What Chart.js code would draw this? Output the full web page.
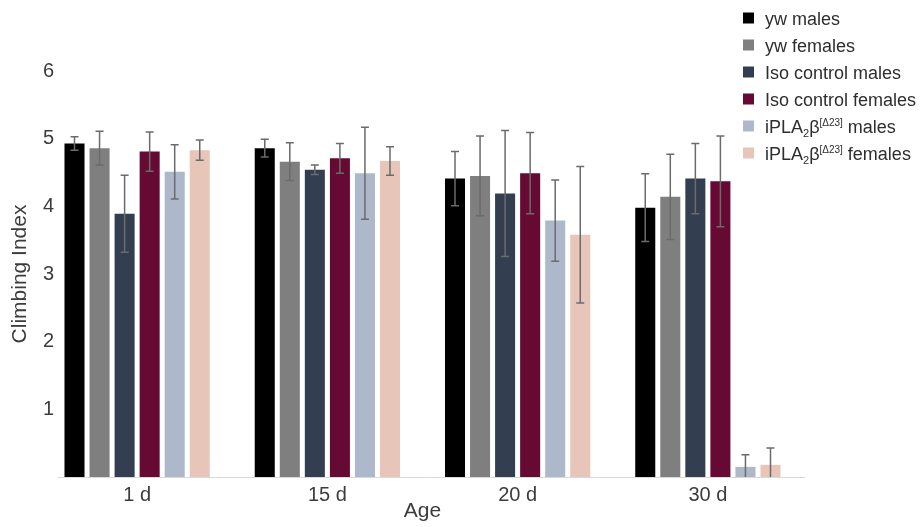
<!DOCTYPE html>
<html><head><meta charset="utf-8">
<script src="https://cdn.jsdelivr.net/npm/chart.js@4.4.1/dist/chart.umd.min.js"></script>
<style>html,body{margin:0;padding:0;background:#fff;}#wrap{width:923px;height:527px;position:relative;}</style>
</head><body><div id="wrap"><canvas id="c" width="923" height="527"></canvas></div>
<script>
const categories = ['1 d', '15 d', '20 d', '30 d'];
const seriesNames = ['yw males', 'yw females', 'Iso control males', 'Iso control females', 'iPLA_{2}β^{[Δ23]} males', 'iPLA_{2}β^{[Δ23]} females'];
const ywMales = [4.93, 4.86, 4.41, 3.98];
const ywMalesErr = [0.10, 0.13, 0.40, 0.50];
const ywFemales = [4.86, 4.66, 4.45, 4.14];
const ywFemalesErr = [0.25, 0.28, 0.59, 0.63];
const isoMales = [3.89, 4.54, 4.19, 4.41];
const isoMalesErr = [0.57, 0.07, 0.93, 0.52];
const isoFemales = [4.81, 4.71, 4.49, 4.37];
const isoFemalesErr = [0.29, 0.22, 0.60, 0.67];
const iplaMales = [4.51, 4.49, 3.79, 0.15];
const iplaMalesErr = [0.40, 0.68, 0.60, 0.18];
const iplaFemales = [4.83, 4.67, 3.58, 0.18];
const iplaFemalesErr = [0.15, 0.21, 1.01, 0.25];
const yTicks = [1, 2, 3, 4, 5, 6];

const seriesValues = [ywMales, ywFemales, isoMales, isoFemales, iplaMales, iplaFemales];
const seriesErrors = [ywMalesErr, ywFemalesErr, isoMalesErr, isoFemalesErr, iplaMalesErr, iplaFemalesErr];
const seriesColors = ['#000000', '#7f7f7f', '#333f50', '#660a33', '#adb9ca', '#e7c6b9'];
const FONT = '"Liberation Sans", Arial, sans-serif';
const TEXT = '#3c3c3c';

function plainLabel(s) { return s.replace(/_\{([^}]*)\}/g, '$1').replace(/\^\{([^}]*)\}/g, '$1'); }

const baseline = {
  id: 'baseline',
  beforeDatasetsDraw(chart) {
    const ctx = chart.ctx, a = chart.chartArea;
    ctx.save();
    ctx.strokeStyle = '#d9d9d9';
    ctx.lineWidth = 1;
    ctx.beginPath();
    ctx.moveTo(a.left + 16, a.bottom + 0.5);
    ctx.lineTo(a.right + 2, a.bottom + 0.5);
    ctx.stroke();
    ctx.restore();
  }
};

const errorBars = {
  id: 'errorBars',
  afterDatasetsDraw(chart) {
    const ctx = chart.ctx, ys = chart.scales.y;
    ctx.save();
    ctx.strokeStyle = '#6b6b6b';
    ctx.lineWidth = 1.5;
    chart.data.datasets.forEach((ds, i) => {
      const meta = chart.getDatasetMeta(i);
      meta.data.forEach((bar, j) => {
        const v = ds.data[j], e = seriesErrors[i][j];
        const yt = ys.getPixelForValue(v + e);
        const lo = v - e;
        const yb = ys.getPixelForValue(Math.max(0, lo));
        const x = bar.x, cw = 4;
        ctx.beginPath();
        ctx.moveTo(x, yt); ctx.lineTo(x, yb);
        ctx.moveTo(x - cw, yt); ctx.lineTo(x + cw, yt);
        if (lo > 0) { ctx.moveTo(x - cw, yb); ctx.lineTo(x + cw, yb); }
        ctx.stroke();
      });
    });
    ctx.restore();
  }
};

function drawRich(ctx, str, x, base) {
  const parts = str.split(/(_\{[^}]*\}|\^\{[^}]*\})/).filter(p => p.length);
  let cx = x;
  parts.forEach(p => {
    let txt = p, size = 18, dy = 0;
    if (p.startsWith('_{')) { txt = p.slice(2, -1); size = 11; dy = 4; }
    else if (p.startsWith('^{')) { txt = p.slice(2, -1); size = 10; dy = -7; }
    ctx.font = size + 'px ' + FONT;
    ctx.fillText(txt, cx, base + dy);
    cx += ctx.measureText(txt).width;
  });
}

const legendPlugin = {
  id: 'customLegend',
  afterDraw(chart) {
    const ctx = chart.ctx;
    const x0 = 743, y0 = 18, step = 27, box = 11;
    ctx.save();
    ctx.textBaseline = 'alphabetic';
    ctx.textAlign = 'left';
    chart.data.datasets.forEach((ds, i) => {
      const y = y0 + i * step;
      ctx.fillStyle = ds.backgroundColor;
      ctx.fillRect(x0, y - box / 2, box, box);
      ctx.fillStyle = '#2e2e2e';
      drawRich(ctx, seriesNames[i], x0 + 22, y + 6.5);
    });
    ctx.restore();
  }
};

new Chart(document.getElementById('c'), {
  type: 'bar',
  data: {
    labels: categories,
    datasets: seriesNames.map((n, i) => ({
      label: plainLabel(n),
      data: seriesValues[i],
      backgroundColor: seriesColors[i],
      borderWidth: 0,
      categoryPercentage: 0.79,
      barPercentage: 0.8
    }))
  },
  options: {
    responsive: false,
    animation: false,
    layout: { padding: { left: 0, right: 120, top: 71, bottom: 0 } },
    plugins: { legend: { display: false }, tooltip: { enabled: false } },
    scales: {
      x: {
        grid: { display: false, drawTicks: false },
        border: { display: false },
        ticks: { color: TEXT, font: { family: FONT, size: 20 }, padding: 6, maxRotation: 0 },
        title: { display: true, text: 'Age', color: TEXT, font: { family: FONT, size: 21 }, padding: { top: 0, bottom: 3 } },
        afterFit(s) { s.height = 50; }
      },
      y: {
        min: 0, max: 6,
        grid: { display: false, drawTicks: false },
        border: { display: false },
        afterBuildTicks(s) { s.ticks = yTicks.map(v => ({ value: v })); },
        ticks: { color: TEXT, font: { family: FONT, size: 20 }, mirror: true, padding: 1 },
        title: { display: true, text: 'Climbing Index', color: TEXT, font: { family: FONT, size: 21 }, padding: { top: 8, bottom: 0 } },
        afterFit(s) { s.width = 42; }
      }
    }
  },
  plugins: [baseline, errorBars, legendPlugin]
});
</script></body></html>
